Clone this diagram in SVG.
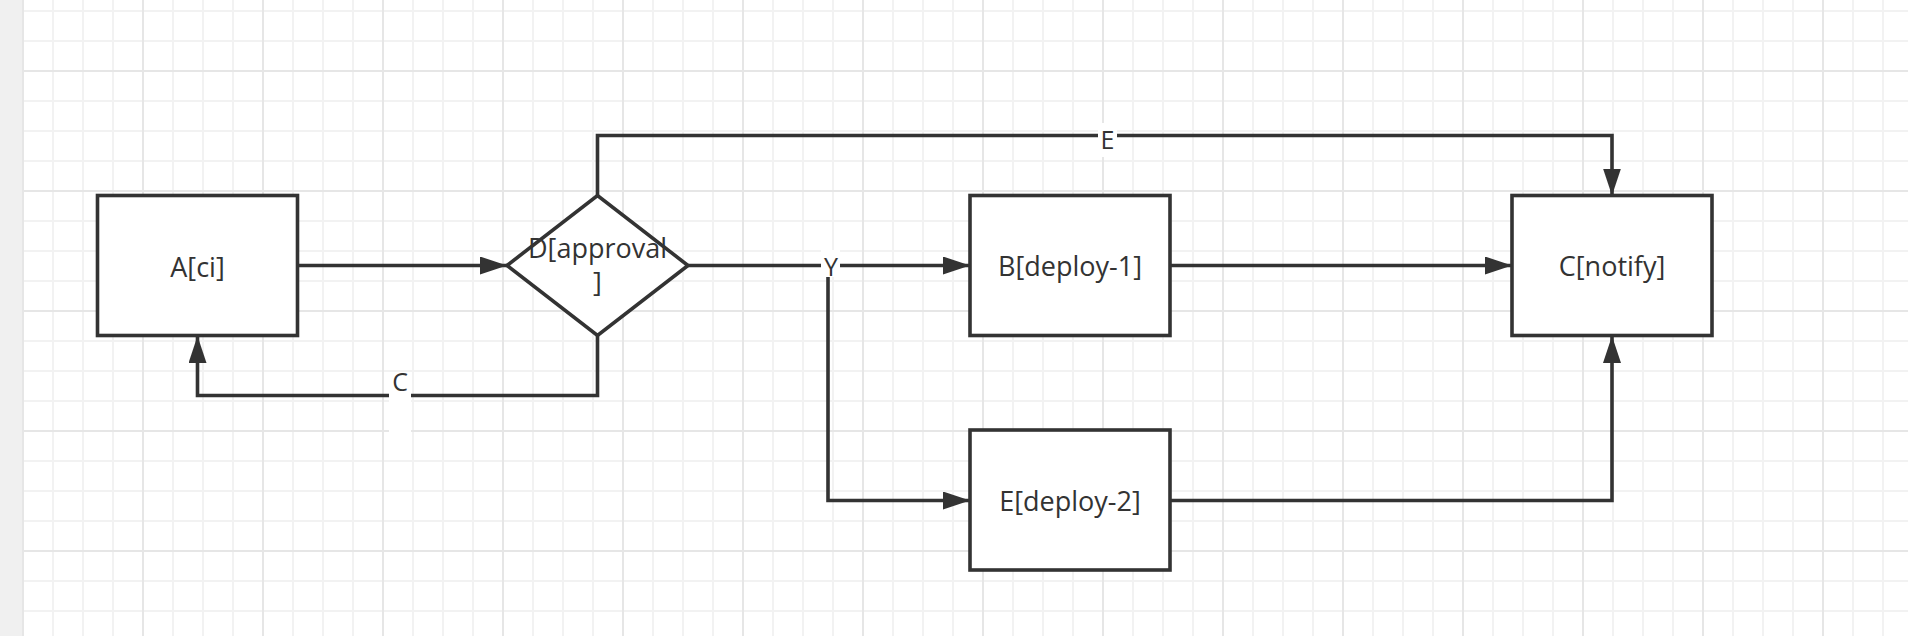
<svg xmlns="http://www.w3.org/2000/svg" width="1908" height="636" viewBox="0 0 1908 636">
  <style>
    .node { fill: #ffffff; stroke: #333333; stroke-width: 3.6; }
    .label { font-family: "Open Sans", "Noto Sans", "Liberation Sans", sans-serif; font-size: 27px; fill: #333333; text-anchor: middle; }
    .elabel { font-family: "Open Sans", "Noto Sans", "Liberation Sans", sans-serif; font-size: 25px; fill: #333333; text-anchor: middle; }
    .edge { fill: none; stroke: #333333; stroke-width: 3.6; marker-end: url(#arrow); }
    .lbg { fill: #ffffff; }
  </style>
  <defs>
    <pattern id="grid" x="22" y="-50" width="120" height="120" patternUnits="userSpaceOnUse">
      <rect x="30" y="0" width="2" height="120" fill="#f2f2f2"/>
      <rect x="60" y="0" width="2" height="120" fill="#f2f2f2"/>
      <rect x="90" y="0" width="2" height="120" fill="#f2f2f2"/>
      <rect x="0" y="30" width="120" height="2" fill="#f2f2f2"/>
      <rect x="0" y="60" width="120" height="2" fill="#f2f2f2"/>
      <rect x="0" y="90" width="120" height="2" fill="#f2f2f2"/>
      <rect x="0" y="0" width="2" height="120" fill="#e6e6e6"/>
      <rect x="0" y="0" width="120" height="2" fill="#e6e6e6"/>
    </pattern>
    <marker id="arrow" markerUnits="userSpaceOnUse" markerWidth="28" markerHeight="18" refX="27" refY="9" orient="auto">
      <path d="M0,0 L27,9 L0,18 Z" fill="#333333"/>
    </marker>
  </defs>

  <rect x="0" y="0" width="1908" height="636" fill="#ffffff"/>
  <rect x="0" y="0" width="1908" height="636" fill="url(#grid)"/>
  <rect x="0" y="0" width="22" height="636" fill="#f0f0f0"/>

  <g id="connectors">
    <path class="edge" d="M298,265.5 L507,265.5"/>
    <path class="edge" d="M597.5,335.5 L597.5,395.5 L197.5,395.5 L197.5,336"/>
    <path class="edge" d="M597.5,195.5 L597.5,135.5 L1612,135.5 L1612,195.5"/>
    <path class="edge" d="M688,265.5 L970,265.5"/>
    <path class="edge" d="M828,265.5 L828,500.5 L970,500.5"/>
    <path class="edge" d="M1170,265.5 L1512,265.5"/>
    <path class="edge" d="M1170,500.5 L1612,500.5 L1612,336"/>
    <rect class="lbg" x="389" y="372" width="22" height="60"/>
    <text class="elabel" x="400" y="391">C</text>
    <rect class="lbg" x="1098" y="123" width="19" height="34"/>
    <text class="elabel" x="1107.5" y="149">E</text>
    <rect class="lbg" x="821" y="250" width="19" height="27"/>
    <text class="elabel" x="831" y="276">Y</text>
  </g>

  <g id="node-A">
    <rect class="node" x="97.5" y="195.5" width="200" height="140"/>
    <text class="label" x="197.5" y="277">A[ci]</text>
  </g>
  <g id="node-D">
    <polygon class="node" points="507,265.5 597.5,195.5 688,265.5 597.5,335.5"/>
    <text class="label" x="597.5" y="258"><tspan x="597.5">D[approval</tspan><tspan x="597.5" dy="34">]</tspan></text>
  </g>
  <g id="node-B">
    <rect class="node" x="970" y="195.5" width="200" height="140"/>
    <text class="label" x="1070" y="276">B[deploy-1]</text>
  </g>
  <g id="node-C">
    <rect class="node" x="1512" y="195.5" width="200" height="140"/>
    <text class="label" x="1612" y="276">C[notify]</text>
  </g>
  <g id="node-E">
    <rect class="node" x="970" y="430" width="200" height="140"/>
    <text class="label" x="1070" y="510.5">E[deploy-2]</text>
  </g>
</svg>
